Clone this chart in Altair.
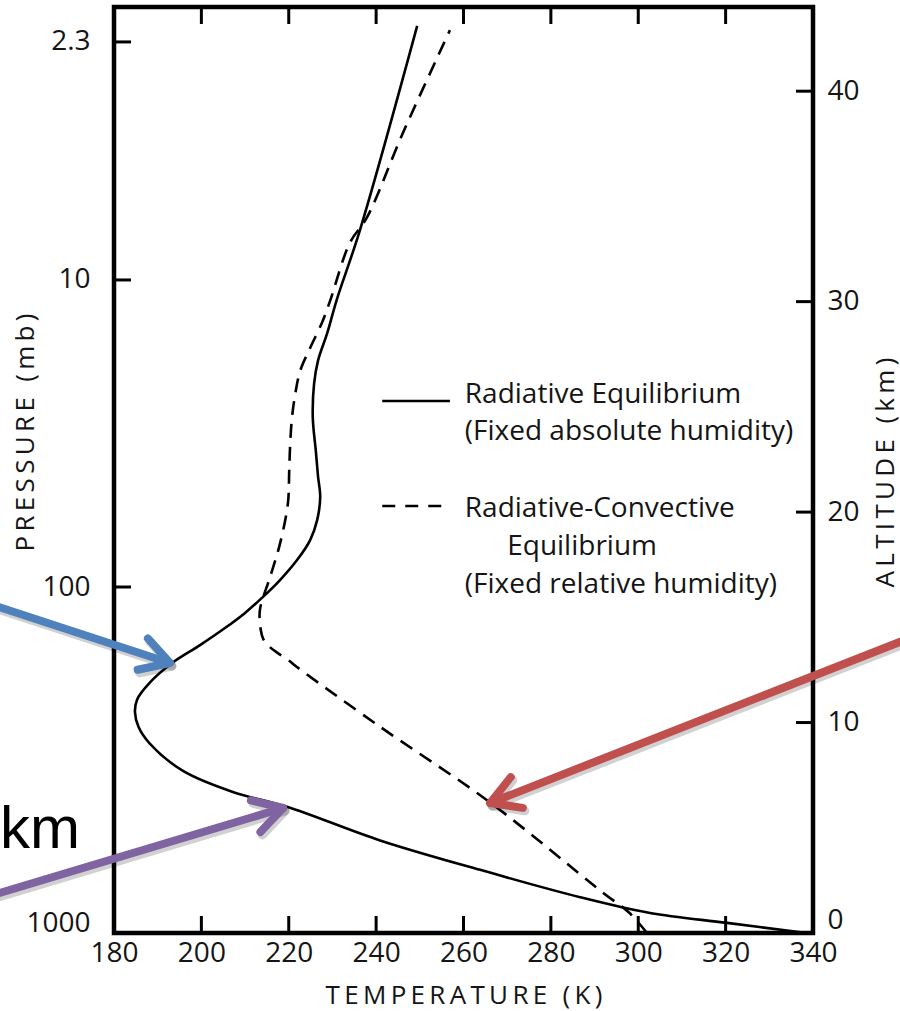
import math
import altair as alt
import pandas as pd

# Radiative equilibrium profile (fixed absolute humidity): altitude (km) -> temperature (K)
re_alt_km = [0.0, 0.48, 0.95, 1.7, 3.0, 4.4, 6.0, 6.7, 7.7, 9.0, 9.8, 10.5, 11.1, 11.9, 12.83,
             13.68, 14.49, 15.21, 15.97, 16.77, 17.72, 18.67, 19.62, 20.72, 21.7, 22.9, 24.5, 26.1,
             27.2, 28.5, 30.1, 33.4, 43.1]
re_temp_k = [338.5, 320.3, 302.7, 286.7, 263.8, 240.9, 219.6, 207.2, 195.8, 188.2, 185.6, 184.8, 185.3, 188.2, 193.3,
             199.7, 205.4, 210.0, 214.1, 218.0, 221.9, 224.9, 226.5, 227.2, 226.7, 226.2, 225.5, 225.8,
             226.7, 228.8, 231.0, 236.3, 249.4]

# Radiative-convective equilibrium profile (fixed relative humidity)
rce_alt_km = [0.0, 0.95, 1.9, 6.2, 9.8, 12.65, 12.97, 13.3, 13.6, 13.95, 14.4, 15.35, 16.9, 18.5, 20.4, 21.9,
              23.1, 24.4, 25.5, 26.7, 27.8, 29.0, 30.0, 32.8, 34.0, 38.0, 42.9]
rce_temp_k = [302.0, 298.0, 292.0, 266.1, 240.9, 221.8, 219.9, 217.5, 215.6, 214.2, 213.6, 213.4, 215.7, 218.0, 219.8, 220.1,
              220.3, 220.7, 221.4, 222.6, 224.9, 227.6, 229.4, 234.0, 237.9, 246.1, 256.9]

# Axis ticks
temp_ticks = [180, 200, 220, 240, 260, 280, 300, 320, 340]
alt_ticks = [0, 10, 20, 30, 40]
pressure_labels = ["1000", "100", "10", "2.3"]
pressure_alt_km = [0, 16.44, 31.03, 42.34]

# Legend entries
legend_lines = ["Radiative Equilibrium", "(Fixed absolute humidity)",
                "Radiative-Convective", "Equilibrium", "(Fixed relative humidity)"]

# Call-out arrows (tail -> tip, in temperature / altitude units)
arrow_names = ["blue", "purple", "red"]
arrow_colors = ["#4F81BD", "#8064A2", "#C0504D"]
arrow_tail_t = [151.6, 151.6, 362.2]
arrow_tail_z = [15.63, 1.76, 14.02]
arrow_tip_t = [192.8, 218.7, 266.1]
arrow_tip_z = [12.83, 5.94, 6.18]

# ---- layout ----
W, H = 699, 926
T_DOMAIN = [180, 340]
Z_DOMAIN = [0, 44]
PX_PER_K = W / (T_DOMAIN[1] - T_DOMAIN[0])
PX_PER_KM = H / (Z_DOMAIN[1] - Z_DOMAIN[0])

FONT = "Open Sans"
INK = "#151515"
TICK_IN = 17
TICK_W = 3


def xs():
    return alt.Scale(domain=T_DOMAIN, nice=False, zero=False)


def ys():
    return alt.Scale(domain=Z_DOMAIN, nice=False, zero=False)


def spaced(s):
    return "\u2009".join(s)


press_expr = " : ".join(
    f"datum.value == {a} ? '{l}'" for a, l in zip(pressure_alt_km, pressure_labels)
) + " : ''"

common_axis = dict(
    domain=False, grid=False, ticks=False, tickSize=0,
    labelFont=FONT, labelFontSize=28, labelColor=INK,
    titleFont=FONT, titleFontSize=26, titleFontWeight="normal", titleColor=INK,
    titleAlign="center", titleBaseline="middle", labelOverlap=False,
)

axis_bottom = alt.Axis(orient="bottom", values=temp_ticks, labelPadding=6, labelFlush=False,
                       title=spaced("TEMPERATURE (K)"), titleX=W / 2, titleY=62, titleAngle=0,
                       **common_axis)
axis_left = alt.Axis(orient="left", values=pressure_alt_km, labelExpr=press_expr, labelPadding=24,
                     labelFlush=True, labelFlushOffset=4,
                     title=spaced("PRESSURE (mb)"), titleX=-89, titleY=425, titleAngle=270,
                     **common_axis)
axis_right = alt.Axis(orient="right", values=alt_ticks, labelPadding=14,
                      labelFlush=True, labelFlushOffset=1,
                      title=spaced("ALTITUDE (km)"), titleX=72, titleY=465, titleAngle=270,
                      **common_axis)

re_df = pd.DataFrame({"t": re_temp_k, "z": re_alt_km})
rce_df = pd.DataFrame({"t": rce_temp_k, "z": rce_alt_km})

solid = alt.Chart(re_df).mark_line(color="black", strokeWidth=2.6, interpolate="catmull-rom").encode(
    x=alt.X("t:Q", scale=xs(), axis=axis_bottom),
    y=alt.Y("z:Q", scale=ys(), axis=axis_left),
    order="z:Q",
)

dashed = alt.Chart(rce_df).mark_line(color="black", strokeWidth=2.6, strokeDash=[14, 9],
                                     interpolate="catmull-rom").encode(
    x=alt.X("t:Q", scale=xs(), axis=None),
    y=alt.Y("z:Q", scale=ys(), axis=axis_right),
    order="z:Q",
)

# ---- inward tick marks on all four sides ----
tick_dz = TICK_IN / PX_PER_KM
tick_dt = TICK_IN / PX_PER_K


def vticks(z0, z1):
    df = pd.DataFrame({"t": temp_ticks, "z": [z0] * len(temp_ticks), "z2": [z1] * len(temp_ticks)})
    return alt.Chart(df).mark_rule(color="black", strokeWidth=TICK_W).encode(
        x=alt.X("t:Q", scale=xs(), axis=None),
        y=alt.Y("z:Q", scale=ys(), axis=None), y2="z2:Q",
    )


def hticks(values, t0, t1):
    df = pd.DataFrame({"z": values, "t": [t0] * len(values), "t2": [t1] * len(values)})
    return alt.Chart(df).mark_rule(color="black", strokeWidth=TICK_W).encode(
        y=alt.Y("z:Q", scale=ys(), axis=None),
        x=alt.X("t:Q", scale=xs(), axis=None), x2="t2:Q",
    )


ticks_bottom = vticks(Z_DOMAIN[0], Z_DOMAIN[0] + tick_dz)
ticks_top = vticks(Z_DOMAIN[1] - tick_dz, Z_DOMAIN[1])
ticks_left = hticks(pressure_alt_km, T_DOMAIN[0], T_DOMAIN[0] + tick_dt)
ticks_right = hticks(alt_ticks, T_DOMAIN[1] - tick_dt, T_DOMAIN[1])

# ---- legend drawn inside the plot ----
LEG_SAMPLE_T = (241.4, 256.9)
LEG_TEXT_T = [260.3, 260.3, 260.3, 270.0, 260.3]
LEG_TEXT_Z = [25.18, 23.43, 19.77, 17.96, 16.16]
leg_text_df = pd.DataFrame({"label": legend_lines, "t": LEG_TEXT_T, "z": LEG_TEXT_Z})
leg_text = alt.Chart(leg_text_df).mark_text(
    align="left", baseline="alphabetic", font=FONT, fontSize=28, color=INK
).encode(
    x=alt.X("t:Q", scale=xs(), axis=None),
    y=alt.Y("z:Q", scale=ys(), axis=None),
    text="label:N",
)

leg_solid = alt.Chart(pd.DataFrame({"t": [LEG_SAMPLE_T[0]], "t2": [LEG_SAMPLE_T[1]], "z": [25.28]})).mark_rule(
    color="black", strokeWidth=2.6
).encode(
    x=alt.X("t:Q", scale=xs(), axis=None), x2="t2:Q",
    y=alt.Y("z:Q", scale=ys(), axis=None),
)
leg_dashed = alt.Chart(pd.DataFrame({"t": [LEG_SAMPLE_T[0]], "t2": [LEG_SAMPLE_T[1]], "z": [20.29]})).mark_rule(
    color="black", strokeWidth=2.6, strokeDash=[13, 10]
).encode(
    x=alt.X("t:Q", scale=xs(), axis=None), x2="t2:Q",
    y=alt.Y("z:Q", scale=ys(), axis=None),
)

# ---- call-out arrows ----
shaft_rows = []
head_rows = []
for name, t0, z0, t1, z1 in zip(arrow_names, arrow_tail_t, arrow_tail_z, arrow_tip_t, arrow_tip_z):
    shaft_rows.append({"name": name, "t": t0, "z": z0, "seq": 0})
    shaft_rows.append({"name": name, "t": t1, "z": z1, "seq": 1})
    dx = (t1 - t0) * PX_PER_K
    dy = -(z1 - z0) * PX_PER_KM
    ang = (math.degrees(math.atan2(dy, dx)) + 360) % 360
    head_rows.append({"name": name, "t": t1, "z": z1, "angle": ang})
shaft_df = pd.DataFrame(shaft_rows)
head_df = pd.DataFrame(head_rows)

arrow_color = alt.Color("name:N", scale=alt.Scale(domain=arrow_names, range=arrow_colors), legend=None)
CHEVRON = "M-1,-0.577L0,0L-1,0.577"


def shafts(shadow=False):
    kw = dict(strokeWidth=8, strokeCap="round")
    if shadow:
        kw.update(color="#000000", opacity=0.18, xOffset=2, yOffset=3, strokeWidth=9)
    enc = dict(
        x=alt.X("t:Q", scale=xs(), axis=None),
        y=alt.Y("z:Q", scale=ys(), axis=None),
        detail="name:N",
        order="seq:Q",
    )
    if not shadow:
        enc["color"] = arrow_color
    return alt.Chart(shaft_df).mark_line(**kw).encode(**enc)


def heads(shadow=False):
    kw = dict(shape=CHEVRON, filled=False, size=3270, strokeWidth=8, strokeCap="round",
              strokeJoin="round", opacity=1)
    if shadow:
        kw.update(color="#000000", opacity=0.18, xOffset=2, yOffset=3, strokeWidth=9)
    enc = dict(
        x=alt.X("t:Q", scale=xs(), axis=None),
        y=alt.Y("z:Q", scale=ys(), axis=None),
        angle=alt.Angle("angle:Q", scale=None),
    )
    if not shadow:
        enc["color"] = arrow_color
    return alt.Chart(head_df).mark_point(**kw).encode(**enc)


KM_T, KM_Z = 172.2, 4.04
km_text = alt.Chart(pd.DataFrame({"t": [KM_T], "z": [KM_Z], "label": ["km"]})).mark_text(
    align="right", baseline="alphabetic", font="Liberation Sans", fontSize=60, color="black"
).encode(
    x=alt.X("t:Q", scale=xs(), axis=None),
    y=alt.Y("z:Q", scale=ys(), axis=None),
    text="label:N",
)

chart = alt.layer(
    solid, dashed, ticks_bottom, ticks_top, ticks_left, ticks_right,
    leg_solid, leg_dashed, leg_text, km_text,
    shafts(True), heads(True), shafts(), heads(),
).resolve_scale(
    x="independent", y="independent"
).properties(
    width=W, height=H,
    autosize=alt.AutoSizeParams(type="none"),
    padding={"left": 114, "top": 7, "right": 87, "bottom": 78},
    background="white",
).configure_view(
    stroke="black", strokeWidth=4.5
)

chart.save("out.html", embed_options={"renderer": "svg", "actions": False})
